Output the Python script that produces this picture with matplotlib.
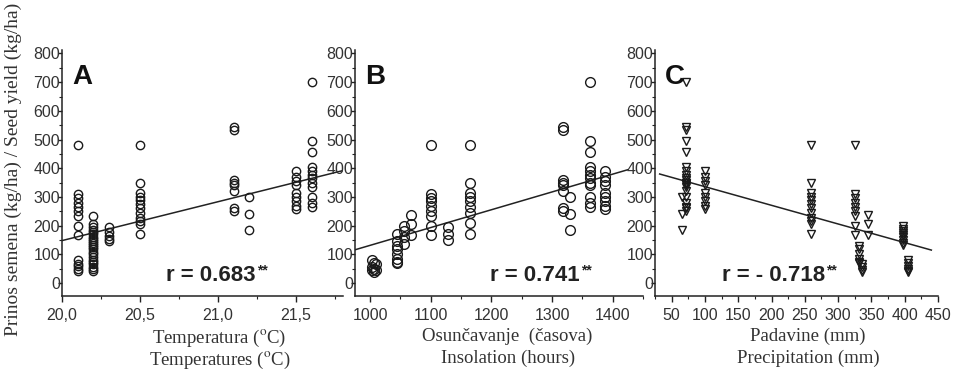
import numpy as np
import matplotlib
matplotlib.use('Agg')
import matplotlib.pyplot as plt
from matplotlib.ticker import MultipleLocator, FormatStrFormatter

plt.rcParams['font.family'] = ['Liberation Sans', 'DejaVu Sans']
plt.rcParams['mathtext.fontset'] = 'stix'

# A: temperature (C) vs seed yield (kg/ha)
temp_x = [20.1, 20.2, 20.3, 20.5, 21.1, 21.2, 21.5, 21.6]
temp_y = [
  [480, 310, 295, 280, 265, 250, 235, 200, 168, 82, 68, 58, 50, 42],
  [235, 205, 195, 185, 178, 170, 162, 155, 148, 140, 132, 125, 118, 110, 100, 92, 80, 72, 65, 55, 48, 42],
  [195, 178, 165, 155, 148],
  [480, 350, 315, 300, 290, 275, 260, 245, 225, 215, 205, 170],
  [545, 535, 360, 350, 340, 320, 260, 250],
  [300, 242, 185],
  [390, 370, 355, 340, 315, 300, 285, 270, 258],
  [700, 495, 455, 405, 390, 378, 365, 350, 335, 300, 280, 265],
]
temp_fit_x = [20.0, 21.8]
temp_fit_y = [148, 392]

# B: insolation (hours)
insol_x = [1003, 1007, 1010, 1045, 1055, 1068, 1100, 1128, 1165, 1318, 1330, 1362, 1388]
insol_y = [
  [80, 55, 45],
  [70, 50, 40],
  [65, 45],
  [170, 145, 130, 118, 100, 85, 75, 70],
  [198, 182, 160, 135],
  [238, 205, 168],
  [480, 312, 298, 285, 270, 250, 232, 200, 168],
  [195, 170, 150],
  [480, 350, 315, 300, 285, 265, 245, 210, 172],
  [545, 535, 360, 350, 340, 320, 260, 250],
  [300, 242, 185],
  [700, 495, 455, 405, 390, 378, 365, 350, 340, 300, 280, 265],
  [390, 370, 355, 340, 315, 300, 285, 270, 258],
]
insol_fit_x = [975, 1425]
insol_fit_y = [116, 395]

# C: precipitation (mm)
prec_x = [66, 72, 100, 260, 325, 332, 336, 345, 397, 405]
prec_y = [
  [300, 242, 185],
  [700, 545, 535, 495, 455, 405, 390, 378, 365, 360, 350, 350, 340, 335, 320, 300, 280, 265, 260, 250],
  [390, 370, 355, 340, 315, 300, 285, 270, 258],
  [480, 350, 315, 300, 290, 275, 260, 245, 225, 215, 205, 170],
  [480, 310, 295, 280, 265, 250, 235, 200, 168],
  [130, 118, 100, 85, 75, 70],
  [65, 55, 45, 38],
  [238, 205, 168],
  [198, 190, 182, 175, 168, 160, 150, 140, 132],
  [82, 70, 60, 50, 42, 38],
]
prec_fit_x = [32, 440]
prec_fit_y = [380, 115]

deg = '(${}^{\\mathrm{o}}$C)'

panels = [
  dict(gx=temp_x, gy=temp_y, fx=temp_fit_x, fy=temp_fit_y, marker='o', ms=6,
       xlim=(20.0, 21.8), major=0.5, minor=0.25, fmt='comma', letter='A',
       r='r = 0.683', rx=0.37, lab=['Temperatura ' + deg, 'Temperatures ' + deg], labx=0.56,
       pos=[62, 343]),
  dict(gx=insol_x, gy=insol_y, fx=insol_fit_x, fy=insol_fit_y, marker='o', ms=7,
       xlim=(975, 1450), major=100, minor=50, fmt='int', letter='B',
       r='r = 0.741', rx=0.47, lab=['Osunčavanje  (časova)', 'Insolation (hours)'], labx=0.53,
       pos=[355, 643]),
  dict(gx=prec_x, gy=prec_y, fx=prec_fit_x, fy=prec_fit_y, marker='v', ms=6,
       xlim=(25, 450), major=50, minor=25, fmt='int', letter='C',
       r='r = - 0.718', rx=0.235, lab=['Padavine (mm)', 'Precipitation (mm)'], labx=0.54,
       pos=[655, 938]),
]

W, H = 955, 372
fig = plt.figure(figsize=(W/100, H/100), dpi=100)

for p in panels:
  l, r = p['pos']
  ax = fig.add_axes([l/W, 1-296/H, (r-l)/W, (296-50)/H])
  ax.patch.set_alpha(0)
  for gx, gy in zip(p['gx'], p['gy']):
    ax.plot([gx]*len(gy), gy, linestyle='none', marker=p['marker'], ms=p['ms'],
            mfc='none', mec='#1a1a1a', mew=1.0, zorder=3)
  ax.plot(p['fx'], p['fy'], color='#222222', linewidth=1.1, zorder=2)
  ax.set_xlim(*p['xlim'])
  ax.set_ylim(-45, 812)
  ax.spines['top'].set_visible(False)
  ax.spines['right'].set_visible(False)
  for s in ['left', 'bottom']:
    ax.spines[s].set_linewidth(1.1)
    ax.spines[s].set_color('#222222')
  ax.yaxis.set_major_locator(MultipleLocator(100))
  ax.yaxis.set_minor_locator(MultipleLocator(50))
  ax.xaxis.set_major_locator(MultipleLocator(p['major']))
  ax.xaxis.set_minor_locator(MultipleLocator(p['minor']))
  if p['fmt'] == 'comma':
    ax.xaxis.set_major_formatter(plt.FuncFormatter(lambda v, pos: ('%.1f' % v).replace('.', ',')))
  else:
    ax.xaxis.set_major_formatter(FormatStrFormatter('%d'))
  ax.tick_params(axis='y', which='major', direction='out', length=3, width=1, pad=-1.5,
                 labelsize=11.5, labelcolor='#333333', color='#222222')
  ax.tick_params(axis='y', which='minor', direction='out', length=2, width=0.8, color='#222222')
  ax.tick_params(axis='x', which='major', direction='out', length=4, width=1, pad=5,
                 labelsize=11.5, labelcolor='#333333', color='#222222')
  ax.tick_params(axis='x', which='minor', direction='out', length=2.5, width=0.8, color='#222222')
  ax.text(0.035, 0.945, p['letter'], transform=ax.transAxes, fontsize=20, fontweight='bold',
          va='top', ha='left', color='#111111')
  rt = ax.text(p['rx'], 0.06, p['r'], transform=ax.transAxes, fontsize=16,
               fontweight='bold', va='baseline', ha='left', color='#222222')
  ax.annotate('**', xy=(1, 1), xycoords=rt, xytext=(1, 1.5), textcoords='offset points',
              fontsize=10, fontweight='bold', va='top', ha='left', color='#222222')
  ax.text(p['labx'], -0.128, p['lab'][0], transform=ax.transAxes, ha='center', va='top',
          fontsize=13.5, family='Liberation Serif', color='#333333')
  ax.text(p['labx'], -0.218, p['lab'][1], transform=ax.transAxes, ha='center', va='top',
          fontsize=13.5, family='Liberation Serif', color='#333333')

fig.text(0.014, 0.545, 'Prinos semena (kg/ha) / Seed yield (kg/ha)', rotation=90,
         ha='center', va='center', fontsize=14, family='Liberation Serif', color='#333333')

plt.savefig('out.png', dpi=100)
